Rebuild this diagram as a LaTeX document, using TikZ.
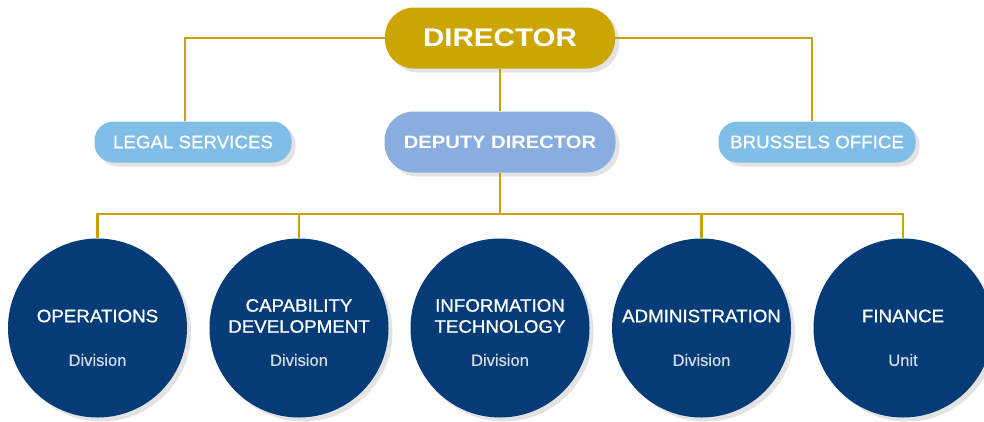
\documentclass[tikz,border=0pt]{standalone}
\usepackage{fontspec}
\setmainfont{Liberation Sans}
\newfontfamily\wideb[FakeStretch=1.16]{Liberation Sans Bold}
\newfontfamily\widebm[FakeStretch=1.12]{Liberation Sans Bold}
\newfontfamily\wider[FakeStretch=1.04,FakeBold=0.9]{Liberation Sans}
\newfontfamily\subfont[FakeBold=0.4]{Liberation Sans}
\usetikzlibrary{shadows}
\definecolor{gold}{HTML}{CCA600}
\definecolor{linegold}{HTML}{C9A208}
\definecolor{lblue}{HTML}{80BEE8}
\definecolor{dblue}{HTML}{89ADDE}
\definecolor{navy}{HTML}{053C78}
\definecolor{subgray}{HTML}{D5DCE6}
\tikzset{
  shad/.style={drop shadow={opacity=0.22,shadow xshift=4pt,shadow yshift=-4pt}},
  pill/.style={shape=rectangle,text=white,inner sep=0pt,align=center,shad},
  dirbox/.style={pill,fill=gold,minimum width=230pt,minimum height=61pt,rounded corners=29pt,font=\wideb\fontsize{25.5}{28}\selectfont},
  sidebox/.style={pill,fill=lblue,minimum width=197pt,minimum height=41pt,rounded corners=19pt,font=\wider\fontsize{18}{20}\selectfont},
  depbox/.style={pill,fill=dblue,minimum width=231pt,minimum height=61pt,rounded corners=29pt,font=\widebm\fontsize{18}{20}\selectfont},
  unit/.style={circle,fill=navy,minimum size=179pt,inner sep=0pt,shad},
  utitle/.style={text=white,align=center,font=\wider\fontsize{18}{21}\selectfont},
  usub/.style={text=subgray,font=\subfont\fontsize{16.5}{18}\selectfont},
  conn/.style={draw=linegold,line width=2.6pt}
}
\begin{document}
\begin{tikzpicture}[x=1pt,y=-1pt]
\useasboundingbox (0,0) rectangle (984,421);
\fill[white] (0,0) rectangle (984,421);
% boxes
\node[dirbox] (dir) at (500,38) {DIRECTOR};
\node[sidebox] (legal) at (193,142) {LEGAL SERVICES};
\node[depbox] (dep) at (500,142) {DEPUTY DIRECTOR};
\node[sidebox] (bru) at (817,142) {BRUSSELS OFFICE};
% circles
\foreach \i/\x in {1/97.5,2/299,3/500,4/701.5,5/903}{
  \node[unit] (c\i) at (\x,328) {};
}
\coordinate (bus) at (500,214);
% connectors
\draw[conn] (dir.west) -| ([xshift=-8pt]legal.north);
\draw[conn] (dir.east) -| ([xshift=-5pt]bru.north);
\draw[conn] (dir.south) -- (dep.north);
\draw[conn] (dep.south) -- (bus);
\draw[conn] (c1.north) |- (bus) -| (c5.north);
\draw[conn] (c2.north) -- (c2.north |- bus);
\draw[conn] (c4.north) -- (c4.north |- bus);
% circle texts
\node[utitle] (t1) at (97.5,316) {OPERATIONS};
\node[usub] (s1) at (97.5,360) {Division};
\node[utitle] (t2) at (299,316) {CAPABILITY\\DEVELOPMENT};
\node[usub] (s2) at (299,360) {Division};
\node[utitle] (t3) at (500,316) {INFORMATION\\TECHNOLOGY};
\node[usub] (s3) at (500,360) {Division};
\node[utitle] (t4) at (701.5,316) {ADMINISTRATION};
\node[usub] (s4) at (701.5,360) {Division};
\node[utitle] (t5) at (903,316) {FINANCE};
\node[usub] (s5) at (903,360) {Unit};
\end{tikzpicture}
\end{document}
